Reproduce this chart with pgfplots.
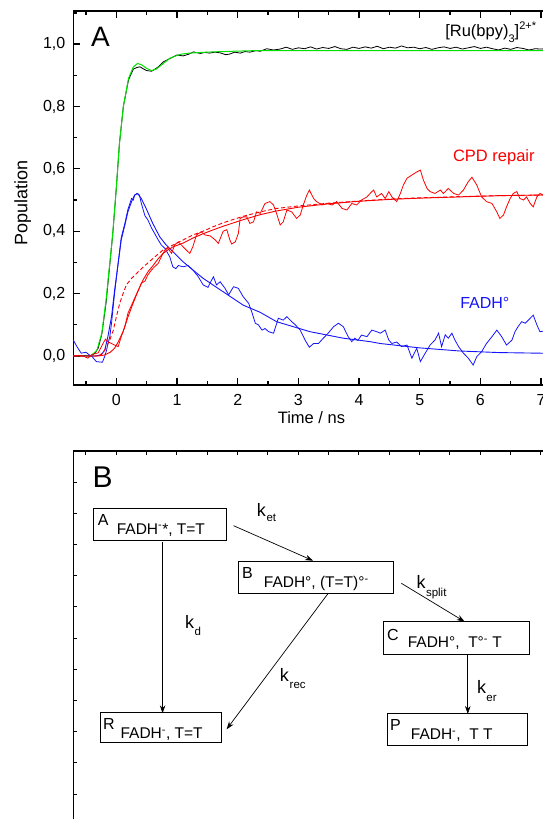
\documentclass[border=0pt]{standalone}
\usepackage{fontspec}
\setmainfont{Liberation Sans}
\usepackage{pgfplots}
\pgfplotsset{compat=1.18}
\usetikzlibrary{arrows.meta}

\definecolor{cgreen}{RGB}{0,225,0}
\definecolor{cblue}{RGB}{20,20,250}
\definecolor{cred}{RGB}{250,0,0}
\newcommand{\fs}[1]{\fontsize{#1}{#1}\selectfont}

\begin{document}
\begin{tikzpicture}
% ---------------- panel A ----------------
\begin{axis}[
  at={(73.3pt,-11pt)}, anchor=north west,
  scale only axis, width=486pt, height=374pt,
  xmin=-0.71, xmax=7.3, ymin=-0.093, ymax=1.106,
  xtick distance=1, minor x tick num=1,
  ytick distance=0.2, minor y tick num=1,
  tick align=inside, xtick pos=both, ytick pos=both,
  xticklabel pos=lower, yticklabel pos=left,
  major tick length=7pt, minor tick length=4pt,
  axis line style={line width=1.3pt},
  tick style={line width=1.3pt, black},
  /pgf/number format/assume math mode=true,
  yticklabel style={/pgf/number format/use comma, /pgf/number format/fixed,
    /pgf/number format/fixed zerofill, /pgf/number format/precision=1, xshift=-4.5pt},
  ticklabel style={font=\fs{16}},
  xticklabel style={yshift=-6pt},
  xlabel={Time / ns}, ylabel={Population},
  xlabel style={font=\fs{16.5}, at={([yshift=-38.5pt]rel axis cs:0.49,0)}, anchor=base},
  ylabel style={font=\fs{18}, at={([xshift=-46pt]rel axis cs:0,0.486)}, anchor=base},
  clip=false,
]
% Ru(bpy)3 data
\addplot[black, line width=0.8pt] coordinates {
(-0.71,0.0) (-0.6,0.0) (-0.5,0.002) (-0.42,0.0) (-0.35,0.01) (-0.3,0.025)
(-0.24,0.07) (-0.17,0.17) (-0.115,0.28) (-0.06,0.39) (0.0,0.54) (0.05,0.68)
(0.115,0.80) (0.2,0.885) (0.28,0.92) (0.34,0.925) (0.39,0.927) (0.45,0.92)
(0.5,0.915) (0.58,0.913) (0.64,0.92) (0.69,0.927) (0.775,0.943) (0.885,0.954)
(1.0,0.965) (1.1,0.962) (1.2,0.968) (1.27,0.975) (1.38,0.97) (1.46,0.973)
(1.54,0.971) (1.62,0.974) (1.71,0.972) (1.8,0.966) (1.87,0.968) (1.95,0.974)
(2.04,0.971) (2.12,0.976) (2.2,0.974) (2.3,0.979) (2.37,0.977) (2.48,0.985)
(2.59,0.981) (2.7,0.984) (2.8,0.99) (2.9,0.983) (3.0,0.988) (3.1,0.985)
(3.2,0.991) (3.3,0.984) (3.4,0.989) (3.5,0.986) (3.6,0.992) (3.7,0.985)
(3.8,0.983) (3.9,0.99) (4.0,0.986) (4.1,0.991) (4.2,0.987) (4.3,0.993)
(4.4,0.985) (4.5,0.99) (4.6,0.987) (4.7,0.994) (4.8,0.988) (4.9,0.99)
(5.0,0.985) (5.1,0.989) (5.2,0.983) (5.3,0.988) (5.4,0.991) (5.5,0.986)
(5.6,0.99) (5.7,0.984) (5.8,0.988) (5.9,0.992) (6.0,0.986) (6.1,0.99)
(6.2,0.985) (6.3,0.981) (6.4,0.987) (6.5,0.983) (6.6,0.989) (6.7,0.986)
(6.8,0.981) (6.9,0.985) (7.0,0.984) (7.1,0.986)};
% Ru(bpy)3 fit
\addplot[cgreen, line width=1pt] coordinates {
(-0.71,0) (-0.42,0) (-0.32,0.019) (-0.24,0.073) (-0.17,0.18) (-0.115,0.286)
(-0.06,0.393) (0.0,0.543) (0.05,0.68) (0.115,0.80) (0.2,0.89) (0.28,0.927)
(0.35,0.938) (0.42,0.933) (0.5,0.922) (0.58,0.915) (0.66,0.92) (0.775,0.938)
(0.885,0.955) (1.05,0.967) (1.2,0.971) (1.38,0.973) (1.6,0.975) (1.93,0.977)
(2.3,0.979) (2.7,0.979) (3.5,0.979) (4.5,0.979) (5.5,0.979) (6.5,0.979) (7.3,0.979)};
% FADH data
\addplot[cblue, line width=0.8pt] coordinates {
(-0.71,0.051) (-0.65,0.03) (-0.58,0.009) (-0.5,0.012) (-0.45,0.004) (-0.41,0.0)
(-0.33,-0.018) (-0.23,-0.02) (-0.19,0.0) (-0.16,0.02) (-0.14,0.04) (-0.11,0.06)
(-0.08,0.105) (-0.03,0.2) (0.03,0.30) (0.08,0.38) (0.14,0.425) (0.19,0.47)
(0.25,0.505) (0.28,0.50) (0.30,0.515) (0.34,0.521) (0.38,0.516) (0.41,0.49)
(0.47,0.45) (0.52,0.436) (0.58,0.41) (0.63,0.393) (0.69,0.372) (0.74,0.356)
(0.80,0.345) (0.88,0.318) (0.93,0.286) (0.98,0.28) (1.02,0.29) (1.10,0.286)
(1.18,0.29) (1.26,0.276) (1.35,0.254) (1.43,0.228) (1.51,0.22) (1.56,0.24)
(1.60,0.254) (1.65,0.228) (1.71,0.238) (1.79,0.217) (1.85,0.196) (1.93,0.222)
(2.01,0.217) (2.09,0.19) (2.18,0.169) (2.23,0.142) (2.29,0.105) (2.34,0.10)
(2.40,0.083) (2.45,0.088) (2.51,0.078) (2.59,0.073) (2.67,0.121) (2.75,0.115)
(2.81,0.126) (2.89,0.11) (2.95,0.10) (3.03,0.083) (3.11,0.051) (3.18,0.028)
(3.25,0.04) (3.33,0.04) (3.41,0.057) (3.49,0.073) (3.58,0.094) (3.66,0.105)
(3.74,0.094) (3.82,0.062) (3.88,0.046) (3.93,0.057) (3.98,0.05) (4.04,0.067)
(4.13,0.062) (4.21,0.083) (4.29,0.078) (4.35,0.073) (4.43,0.083) (4.49,0.051)
(4.54,0.04) (4.62,0.045) (4.70,0.03) (4.79,0.035) (4.87,-0.007) (4.95,0.025)
(5.01,-0.018) (5.09,0.009) (5.17,0.035) (5.25,0.051) (5.31,0.073) (5.36,0.03)
(5.42,0.068) (5.47,0.057) (5.53,0.073) (5.58,0.051) (5.64,0.03) (5.72,0.009)
(5.80,-0.007) (5.88,-0.029) (5.94,-0.002) (6.02,0.014) (6.10,0.04) (6.19,0.062)
(6.27,0.083) (6.35,0.062) (6.43,0.035) (6.52,0.051) (6.57,0.078) (6.62,0.094)
(6.68,0.11) (6.74,0.105) (6.79,0.115) (6.87,0.131) (6.93,0.10) (6.98,0.078)
(7.05,0.08) (7.1,0.085)};
% FADH fit
\addplot[cblue, line width=0.9pt] coordinates {
(-0.71,0) (-0.35,0) (-0.25,0.003) (-0.19,0.02) (-0.14,0.062) (-0.08,0.126)
(-0.03,0.21) (0.03,0.297) (0.08,0.372) (0.14,0.42) (0.19,0.462) (0.25,0.495)
(0.30,0.516) (0.35,0.521) (0.41,0.505) (0.49,0.473) (0.60,0.425) (0.715,0.382)
(0.82,0.356) (0.935,0.334) (1.10,0.302) (1.26,0.276) (1.43,0.249) (1.59,0.228)
(1.76,0.206) (2.09,0.163) (2.37,0.14) (2.64,0.11) (3.19,0.078) (3.74,0.057)
(4.18,0.046) (4.35,0.040) (5.0,0.026) (5.66,0.016) (6.3,0.011) (6.98,0.009) (7.3,0.008)};
% CPD repair data
\addplot[cred, line width=0.8pt] coordinates {
(-0.71,0.0) (-0.62,0.002) (-0.55,0.0) (-0.47,-0.007) (-0.40,0.005) (-0.30,0.01)
(-0.22,0.04) (-0.18,0.054) (-0.14,0.046) (-0.08,0.04) (-0.03,0.035) (0.03,0.03)
(0.08,0.062) (0.14,0.094) (0.19,0.137) (0.25,0.163) (0.30,0.185) (0.36,0.21)
(0.41,0.233) (0.47,0.24) (0.52,0.26) (0.58,0.276) (0.63,0.286) (0.69,0.297)
(0.74,0.318) (0.80,0.34) (0.85,0.345) (0.91,0.329) (0.96,0.356) (1.02,0.366)
(1.07,0.356) (1.15,0.34) (1.21,0.329) (1.26,0.35) (1.32,0.388) (1.40,0.398)
(1.46,0.388) (1.545,0.385) (1.63,0.372) (1.68,0.361) (1.76,0.40) (1.82,0.405)
(1.87,0.372) (1.90,0.359) (1.96,0.366) (2.01,0.393) (2.04,0.441) (2.09,0.446)
(2.15,0.446) (2.20,0.425) (2.26,0.43) (2.31,0.462) (2.37,0.457) (2.45,0.489)
(2.53,0.495) (2.59,0.484) (2.64,0.457) (2.70,0.42) (2.75,0.43) (2.81,0.468)
(2.89,0.462) (2.97,0.441) (3.03,0.452) (3.08,0.484) (3.14,0.516) (3.18,0.532)
(3.25,0.505) (3.30,0.495) (3.39,0.484) (3.47,0.489) (3.56,0.484) (3.63,0.495)
(3.72,0.473) (3.80,0.468) (3.88,0.489) (3.96,0.484) (4.04,0.50) (4.13,0.51)
(4.21,0.527) (4.24,0.532) (4.29,0.51) (4.37,0.521) (4.43,0.505) (4.49,0.527)
(4.54,0.51) (4.62,0.495) (4.68,0.521) (4.73,0.548) (4.79,0.57) (4.87,0.58)
(4.95,0.59) (5.01,0.596) (5.06,0.564) (5.12,0.537) (5.17,0.527) (5.25,0.521)
(5.34,0.532) (5.39,0.521) (5.47,0.537) (5.56,0.521) (5.64,0.516) (5.72,0.532)
(5.80,0.559) (5.86,0.573) (5.94,0.548) (6.02,0.51) (6.10,0.495) (6.19,0.489)
(6.27,0.462) (6.32,0.441) (6.38,0.452) (6.43,0.478) (6.49,0.505) (6.54,0.521)
(6.60,0.527) (6.65,0.505) (6.71,0.50) (6.76,0.51) (6.82,0.489) (6.87,0.478)
(6.93,0.51) (6.98,0.521) (7.05,0.515)};
% CPD repair fit
\addplot[cred, line width=0.9pt] coordinates {
(-0.71,0) (-0.3,0) (-0.2,0.003) (-0.1,0.012) (-0.03,0.025) (0.03,0.045)
(0.11,0.078) (0.2,0.13) (0.275,0.169) (0.36,0.21) (0.44,0.244) (0.52,0.27)
(0.605,0.29) (0.69,0.312) (0.77,0.329) (0.85,0.34) (0.935,0.35) (1.10,0.362)
(1.26,0.378) (1.43,0.392) (1.59,0.404) (1.76,0.416) (2.09,0.437) (2.37,0.453)
(2.64,0.465) (3.0,0.477) (3.5,0.488) (4.0,0.496) (4.5,0.502) (5.0,0.506)
(5.66,0.510) (6.3,0.514) (7.0,0.516) (7.3,0.517)};
% CPD repair second model (dashed)
\addplot[cred, line width=0.9pt, dash pattern=on 4pt off 2.5pt] coordinates {
(-0.71,0) (-0.3,0) (-0.22,0.01) (-0.16,0.03) (-0.11,0.051) (-0.05,0.083)
(0.0,0.126) (0.055,0.169) (0.11,0.20) (0.165,0.228) (0.25,0.249) (0.36,0.27)
(0.47,0.29) (0.605,0.313) (0.77,0.34) (0.935,0.356) (1.10,0.372) (1.26,0.388)
(1.43,0.40) (1.59,0.414) (1.76,0.427) (2.09,0.448) (2.37,0.462) (2.64,0.473)
(3.0,0.481) (3.5,0.490) (4.0,0.497) (4.5,0.503) (5.0,0.507) (5.66,0.511)
(6.3,0.514) (7.0,0.516) (7.3,0.517)};

\node[anchor=base west, inner sep=0, font=\fs{28}] at (axis cs:-0.42,0.991) {A};
\node[anchor=base west, inner sep=0, font=\fs{16.5}] at (axis cs:5.418,1.024)
  {[Ru(bpy)\raisebox{-5.5pt}{\fs{11}3}]\raisebox{7pt}{\fs{11}2+*}};
\node[anchor=base west, inner sep=0, font=\fs{16.5}, text=cred] at (axis cs:5.545,0.623) {CPD repair};
\node[anchor=base west, inner sep=0, font=\fs{16}, text=cblue] at (axis cs:5.665,0.151) {FADH°};
\end{axis}

% ---------------- panel B ----------------
\begin{axis}[
  at={(73.3pt,-451pt)}, anchor=north west,
  scale only axis, width=486pt, height=400pt,
  xmin=73.3, xmax=559.3, ymin=-851, ymax=-451,
  xtick={85.97,116.3,...,545}, ytick={-482,-513.2,...,-851},
  xtick pos=right, ytick pos=left,
  xticklabels={}, yticklabels={},
  tick align=inside, major tick length=3.5pt,
  axis line style={line width=1.3pt},
  tick style={line width=1pt, black},
  clip=false,
]
\node[anchor=base west, inner sep=0, font=\fs{30}] at (axis cs:92.5,-487.7) {B};

\begin{scope}[line width=0.8pt]
\draw (axis cs:93.4,-508.3) rectangle (axis cs:226.6,-540);
\draw (axis cs:238.8,-561) rectangle (axis cs:393.4,-593);
\draw (axis cs:383.4,-621.7) rectangle (axis cs:529.4,-654);
\draw (axis cs:100.3,-712.7) rectangle (axis cs:221.5,-742.7);
\draw (axis cs:386.9,-713.7) rectangle (axis cs:527.7,-745.7);
\end{scope}

\begin{scope}[nodes={anchor=base west, inner sep=0}]
\node[font=\fs{16}] at (axis cs:97.6,-525) {A};
\node[font=\fs{15.5}] at (axis cs:116.6,-534) {FADH\textsuperscript{-}*, T=T};
\node[font=\fs{16}] at (axis cs:242,-578.3) {B};
\node[font=\fs{15.5}] at (axis cs:263.7,-587.3) {FADH°, (T=T)°\textsuperscript{-}};
\node[font=\fs{16}] at (axis cs:387,-640.7) {C};
\node[font=\fs{15.5}] at (axis cs:407.6,-647.3) {FADH°,\ \ T°\textsuperscript{-} T};
\node[font=\fs{16}] at (axis cs:102.8,-729.3) {R};
\node[font=\fs{15.5}] at (axis cs:120.4,-738.3) {FADH\textsuperscript{-}, T=T};
\node[font=\fs{16}] at (axis cs:390,-730) {P};
\node[font=\fs{15.5}] at (axis cs:410.7,-739.3) {FADH\textsuperscript{-},\ \ T T};
% rate constants
\node[font=\fs{18}] at (axis cs:256.7,-516) {k};
\node[font=\fs{11.5}] at (axis cs:266.4,-521.7) {et};
\node[font=\fs{18}] at (axis cs:185,-628.3) {k};
\node[font=\fs{11.5}] at (axis cs:194.5,-635.7) {d};
\node[font=\fs{18}] at (axis cs:279.6,-681.7) {k};
\node[font=\fs{11.5}] at (axis cs:289.5,-688.3) {rec};
\node[font=\fs{18}] at (axis cs:416.3,-588.3) {k};
\node[font=\fs{11.5}] at (axis cs:425.8,-596) {split};
\node[font=\fs{18}] at (axis cs:476.8,-693.3) {k};
\node[font=\fs{11.5}] at (axis cs:486.2,-701.7) {er};
\end{scope}

\begin{scope}[line width=0.7pt, -{Stealth[length=8pt, width=5.5pt]}]
\draw (axis cs:233.6,-525.7) -- (axis cs:313.1,-560.7);
\draw (axis cs:162.6,-542.3) -- (axis cs:162.6,-713.3);
\draw (axis cs:327.7,-594) -- (axis cs:226.6,-729.3);
\draw (axis cs:401.4,-583.3) -- (axis cs:464.7,-621.7);
\draw (axis cs:467.8,-654.3) -- (axis cs:467.8,-714);
\end{scope}
\end{axis}

\pgfresetboundingbox
\useasboundingbox (0,0) rectangle (542pt,-819pt);
\end{tikzpicture}
\end{document}
